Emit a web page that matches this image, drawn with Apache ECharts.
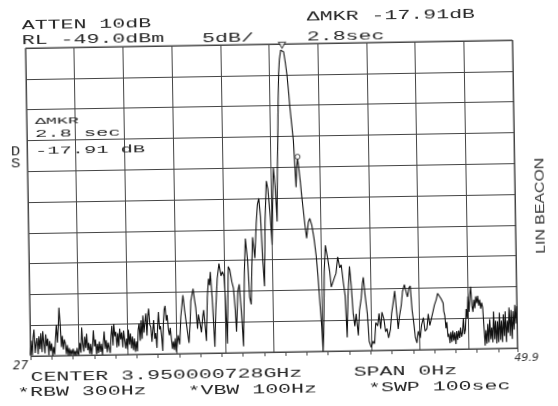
<!DOCTYPE html>
<html>
<head>
<meta charset="utf-8">
<script src="https://cdn.jsdelivr.net/npm/echarts@6/dist/echarts.min.js"></script>
<style>
html,body{margin:0;padding:0;background:#fff;}
#chart{width:558px;height:406px;transform:rotate(-0.94deg);transform-origin:279px 203px;}
</style>
</head>
<body>
<div id="chart"></div>
<script>
// Sweep time (s) of each trace sample, SPAN 0 Hz, SWP 100 sec
const sweepSeconds = [
  0.0,0.2,0.4,0.6,0.8,1.0,1.2,1.4,1.6,1.8,2.0,2.2,2.4,2.6,2.8,3.0,3.2,3.4,3.6,3.8,4.0,4.2,4.4,4.6,4.8,5.0,5.2,5.4,5.6,5.8,6.0,6.2,6.4,6.6,6.8,7.0,7.2,7.4,7.6,7.8,8.0,8.2,8.4,8.6,8.8,9.0,9.2,9.4,9.6,9.8,
  10.0,10.2,10.4,10.6,10.8,11.0,11.2,11.4,11.6,11.8,12.0,12.2,12.4,12.6,12.8,13.0,13.2,13.4,13.6,13.8,14.0,14.2,14.4,14.6,14.8,15.0,15.2,15.4,15.6,15.8,16.0,16.2,16.4,16.6,16.8,17.0,17.2,17.4,17.6,17.8,18.0,18.2,18.4,18.6,18.8,19.0,19.2,19.4,19.6,19.8,
  20.0,20.2,20.4,20.6,20.8,21.0,21.2,21.4,21.6,21.8,22.0,22.2,22.4,22.6,22.8,23.0,23.2,23.4,23.6,23.8,24.0,24.2,24.4,24.6,24.8,25.0,25.2,25.4,25.6,25.8,26.0,26.2,26.4,26.6,26.8,27.0,27.2,27.4,27.6,27.8,28.0,28.2,28.4,28.6,28.8,29.0,29.2,29.4,29.6,29.8,
  30.0,30.4,30.7,31.0,31.5,31.8,32.1,32.4,32.6,32.9,33.1,33.6,33.9,34.1,34.4,34.6,34.9,35.2,35.5,35.7,36.0,36.2,36.5,36.8,37.0,37.2,37.5,37.9,38.2,38.6,39.0,39.4,39.7,
  40.0,40.2,40.5,40.9,41.2,41.6,41.9,42.2,42.4,42.8,43.1,43.5,43.8,44.2,44.5,44.9,45.2,45.5,45.8,46.0,46.4,46.8,47.1,47.4,47.7,48.0,48.3,48.6,49.0,49.3,49.7,
  50.0,50.3,50.5,50.8,51.1,51.3,51.5,51.7,51.9,52.1,52.4,52.7,53.0,53.3,53.6,53.9,54.1,54.4,54.7,54.9,55.1,55.3,55.5,55.7,56.0,56.2,56.5,56.8,57.1,57.5,57.8,58.2,58.6,59.0,59.3,59.6,59.9,
  60.1,60.3,60.6,60.9,61.3,61.7,62.0,62.4,62.7,63.0,63.4,63.8,64.1,64.5,64.8,65.1,65.4,65.8,66.1,66.4,66.7,67.0,67.4,67.7,68.1,68.4,68.6,68.9,69.3,69.6,
  70.0,70.4,70.7,71.0,71.4,71.7,72.0,72.3,72.7,73.0,73.3,73.6,74.0,74.3,74.6,75.0,75.3,75.6,75.9,76.3,76.6,77.0,77.3,77.6,77.9,78.2,78.5,78.8,79.1,79.4,79.7,
  80.1,80.4,80.8,81.1,81.5,81.8,82.1,82.5,82.8,83.1,83.5,83.8,84.2,84.5,84.9,
  85.0,85.2,85.4,85.6,85.8,86.0,86.2,86.4,86.6,86.8,87.0,87.2,87.4,87.6,87.8,88.0,88.2,88.4,88.6,88.8,89.0,89.2,89.4,89.6,89.8,
  90.0,90.2,90.4,90.6,90.8,91.0,91.2,91.4,91.6,91.8,92.0,92.2,92.4,92.6,92.8,93.0,93.2,93.4,93.6,93.8,94.0,94.2,94.4,94.6,94.8,
  95.0,95.2,95.4,95.6,95.8,96.0,96.2,96.4,96.6,96.8,97.0,97.2,97.4,97.6,97.8,98.0,98.2,98.4,98.6,98.8,99.0,99.2,99.4,99.6,99.8,100.0
];
// Trace level (dBm), RL -49.0 dBm, 5 dB/div
const levelDbm = [
  -98.8,-96.5,-98.9,-96.0,-94.7,-98.5,-97.0,-96.1,-98.7,-95.8,-97.9,-95.3,-98.4,-95.0,-96.8,-98.6,-95.5,-97.4,-96.2,-98.9,-96.6,-98.2,-97.0,-99.0,-97.6,-98.8,-96.2,-94.0,-96.9,-94.4,-91.2,-93.8,-97.6,-95.8,-98.0,-96.4,-97.0,-98.8,-97.3,-99.0,-97.8,-99.0,-98.1,-98.9,-97.9,-99.0,-98.3,-99.0,-97.8,-98.9,
  -98.5,-97.0,-98.6,-94.5,-97.2,-98.4,-96.0,-97.8,-95.5,-98.2,-97.0,-98.8,-97.2,-98.9,-97.4,-95.0,-97.6,-96.5,-98.9,-97.2,-98.7,-96.8,-98.5,-97.2,-99.0,-97.0,-95.2,-98.0,-96.6,-98.6,-97.0,-96.9,-98.7,-96.0,-94.3,-97.5,-94.0,-96.0,-95.3,-97.8,-95.5,-97.6,-94.8,-96.5,-95.4,-97.8,-95.1,-96.6,-98.0,-96.4,
  -98.2,-95.0,-97.4,-95.6,-98.0,-96.1,-98.3,-96.4,-98.6,-96.9,-98.5,-95.0,-94.0,-96.8,-93.5,-96.5,-92.7,-95.5,-93.8,-92.4,-96.0,-92.8,-91.6,-94.2,-94.6,-97.0,-95.2,-93.5,-96.5,-95.6,-98.0,-94.6,-92.2,-95.0,-94.5,-96.1,-98.5,-94.0,-91.8,-91.2,-93.6,-92.7,-95.0,-96.0,-94.8,-96.6,-98.2,-97.0,-98.4,-96.5,
  -98.7,-96.0,-97.5,-93.0,-89.5,-92.0,-92.2,-96.0,-97.3,-94.0,-90.5,-88.5,-90.5,-91.6,-95.0,-92.7,-94.0,-95.6,-93.0,-92.0,-95.0,-97.0,-90.0,-86.9,-88.0,-85.8,-90.0,-98.0,-92.0,-86.9,-84.5,-86.5,-85.8,
  -86.5,-90.0,-97.5,-85.0,-85.5,-87.5,-88.5,-92.0,-95.6,-89.0,-87.9,-93.0,-98.0,-86.0,-80.5,-84.0,-90.0,-91.2,-84.0,-80.3,-83.7,-78.0,-75.0,-74.0,-77.0,-84.0,-88.3,-78.0,-71.2,-72.5,-77.0,
  -81.6,-73.0,-69.1,-72.0,-77.8,-70.0,-64.7,-58.5,-53.8,-51.5,-50.0,-49.7,-50.3,-52.0,-54.0,-57.0,-59.3,-62.0,-64.7,-68.5,-72.3,-69.0,-67.6,-69.0,-71.5,-73.5,-76.0,-78.5,-80.6,-78.0,-77.4,-78.5,-80.6,-83.5,-86.8,-91.0,-95.0,
  -99.0,-96.0,-86.0,-81.8,-83.7,-86.0,-88.6,-88.5,-87.0,-86.4,-83.7,-85.5,-85.0,-88.0,-90.0,-96.8,-90.0,-85.3,-88.5,-93.0,-95.0,-93.0,-96.5,-92.5,-90.5,-88.0,-87.1,-90.0,-93.0,-97.5,
  -98.5,-97.5,-97.9,-94.5,-95.0,-93.0,-95.5,-92.8,-94.0,-96.0,-95.5,-97.0,-95.6,-93.0,-91.5,-89.4,-92.5,-95.6,-93.5,-91.7,-89.5,-88.4,-89.5,-90.4,-89.0,-88.6,-92.5,-94.6,-97.0,-97.9,-96.0,
  -97.1,-95.0,-93.8,-96.0,-95.6,-93.2,-95.1,-93.8,-92.8,-91.8,-90.9,-89.9,-89.7,-90.8,-91.5,
  -92.8,-93.5,-95.6,-94.6,-97.0,-96.5,-98.0,-96.2,-97.8,-96.0,-97.6,-96.3,-98.2,-96.1,-97.5,-96.0,-97.2,-95.5,-97.0,-96.3,-94.0,-96.6,-95.8,-92.5,-94.0,
  -90.5,-93.0,-90.2,-88.9,-92.0,-93.0,-91.0,-92.4,-90.5,-91.6,-90.4,-92.0,-91.0,-92.5,-91.5,-92.3,-92.0,-98.5,-96.0,-98.2,-95.0,-98.0,-94.2,-97.5,-95.6,
  -98.0,-93.0,-97.5,-94.5,-98.2,-94.6,-98.0,-93.2,-97.6,-94.5,-98.0,-93.5,-97.0,-93.0,-98.0,-94.5,-96.5,-92.4,-97.0,-92.8,-97.5,-93.0,-96.0,-92.0,-95.0,-92.2
];
// Marker (peak) and delta marker (2.8 sec later, -17.91 dB)
const markerSeconds = [52.7, 55.5];
const markerDbm = [-49.7, -67.6];
// Hand-written scale under the graticule
const handScale = [27, 49.9];

const chart = echarts.init(document.getElementById('chart'), null, {renderer: 'canvas'});
const ink = '#262626';
const gridInk = '#444';
const mono = '"Liberation Mono", "DejaVu Sans Mono", monospace';

function plotText(text, x, y, size, sx) {
  return {
    type: 'text', x: x, y: y, scaleX: sx, scaleY: 1, silent: true, z: 10,
    style: {text: text, font: size + 'px ' + mono, fill: ink, align: 'left', verticalAlign: 'middle'}
  };
}

const traceData = sweepSeconds.map((t, i) => [t, levelDbm[i]]);

const option = {
  animation: false,
  backgroundColor: '#fff',
  grid: {left: 28, top: 44, width: 487, height: 308, show: true, borderColor: gridInk, borderWidth: 1, backgroundColor: 'transparent'},
  xAxis: [
    {type: 'value', min: 0, max: 100, interval: 10,
     axisLine: {show: false}, axisTick: {show: false}, axisLabel: {show: false},
     splitLine: {show: true, lineStyle: {color: gridInk, width: 1}}},
    {type: 'value', min: handScale[0], max: handScale[1], interval: 1, position: 'bottom',
     axisLine: {show: false},
     axisTick: {show: true, inside: false, length: 4, lineStyle: {color: gridInk, width: 1}},
     splitLine: {show: false},
     axisLabel: {show: true, margin: 1, showMinLabel: true, showMaxLabel: true,
       formatter: function (v) {
         if (Math.abs(v - handScale[0]) < 1e-6) return '{l|' + handScale[0] + '}';
         if (Math.abs(v - handScale[1]) < 1e-6) return '{r|' + handScale[1] + '}';
         return '';
       },
       rich: {
         l: {fontSize: 12, fontStyle: 'italic', fontFamily: '"DejaVu Sans"', color: '#2a2a2a', padding: [3, 20, 0, 0]},
         r: {fontSize: 11, fontStyle: 'italic', fontFamily: '"DejaVu Sans"', color: '#333', padding: [4, 0, 0, 18]}
       }}}
  ],
  yAxis: [
    {type: 'value', min: -99, max: -49, show: false},
    {type: 'value', min: 0, max: 10, interval: 1,
     axisLine: {show: false}, axisTick: {show: false}, axisLabel: {show: false},
     splitLine: {show: true, lineStyle: {color: gridInk, width: 1}}}
  ],
  series: [
    {type: 'line', xAxisIndex: 0, yAxisIndex: 0, data: traceData, symbol: 'none',
     lineStyle: {color: '#111', width: 1.1}, z: 3},
    {type: 'scatter', xAxisIndex: 0, yAxisIndex: 0, z: 4,
     itemStyle: {color: '#fff', borderColor: '#1a1a1a', borderWidth: 1},
     data: [
       {value: [markerSeconds[0], markerDbm[0]], symbol: 'triangle', symbolRotate: 180, symbolSize: [7, 6], symbolOffset: [0, -3]},
       {value: [markerSeconds[1], markerDbm[1]], symbol: 'circle', symbolSize: 5, symbolOffset: [0, -1.5]}
     ]}
  ],
  graphic: [
    plotText('ATTEN 10dB', 24.7, 21.8, 12.7, 1.7),
    plotText('RL -49.0dBm', 24.5, 36.6, 12.7, 1.7),
    plotText('5dB/', 204.8, 37.2, 12.7, 1.7),
    plotText('\u0394MKR -17.91dB', 309.8, 17.2, 12.7, 1.7),
    plotText('2.8sec', 309.5, 37.2, 12.7, 1.7),
    plotText('\u0394MKR', 36.4, 118.2, 8.5, 2.15),
    plotText('2.8 sec', 36.2, 130.7, 10.2, 2.0),
    plotText('-17.91 dB', 36, 147.3, 10.2, 2.0),
    plotText('D', 11.8, 147.5, 13, 1.2),
    plotText('S', 11.7, 159.8, 13, 1.2),
    plotText('CENTER 3.950000728GHz', 27.7, 373.6, 12.7, 1.7),
    plotText('SPAN 0Hz', 350.9, 373.8, 12.7, 1.7),
    plotText('*RBW 300Hz', 14.1, 388.2, 12.7, 1.7),
    plotText('*VBW 100Hz', 184.5, 389.3, 12.7, 1.7),
    plotText('*SWP 100sec', 365, 389.3, 12.7, 1.7),
    {type: 'text', x: 540, y: 210, rotation: Math.PI / 2, scaleX: 1.22, scaleY: 1, silent: true,
     style: {text: 'LIN BEACON', font: '13px "Liberation Sans"', fill: '#333', align: 'center', verticalAlign: 'middle'}}
  ]
};
chart.setOption(option);
</script>
</body>
</html>
